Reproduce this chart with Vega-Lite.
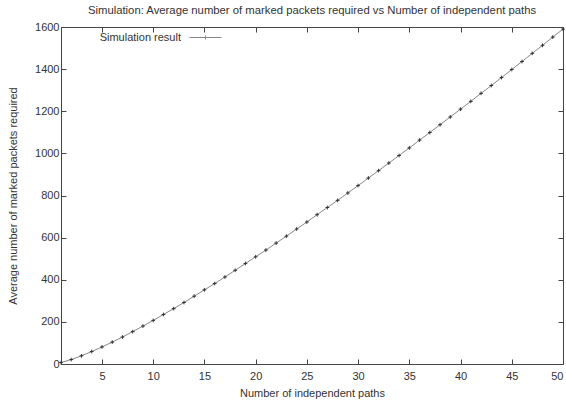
{
  "$schema": "https://vega.github.io/schema/vega-lite/v6.json",
  "width": 502,
  "height": 337,
  "autosize": {"type": "none"},
  "padding": {"left": 61, "top": 27, "right": 3, "bottom": 38},
  "background": "white",
  "config": {
    "font": "Liberation Sans",
    "view": {"stroke": "#444", "strokeWidth": 1},
    "axis": {
      "grid": false,
      "domain": false,
      "tickColor": "#444",
      "tickSize": -5,
      "labelFontSize": 11,
      "labelColor": "#333",
      "labelFont": "Liberation Sans",
      "titleFont": "Liberation Sans",
      "titleFontSize": 11,
      "titleFontWeight": "normal",
      "titleColor": "#333"
    }
  },
  "title": {
    "text": "Simulation: Average number of marked packets required vs Number of independent paths",
    "fontSize": 11.3,
    "fontWeight": "normal",
    "font": "Liberation Sans",
    "color": "#333",
    "anchor": "middle",
    "offset": 5
  },
  "data": {
    "values": [
      {"n": 1, "v": 7}, {"n": 2, "v": 21}, {"n": 3, "v": 39}, {"n": 4, "v": 59}, {"n": 5, "v": 81},
      {"n": 6, "v": 104}, {"n": 7, "v": 128}, {"n": 8, "v": 154}, {"n": 9, "v": 180}, {"n": 10, "v": 207},
      {"n": 11, "v": 235}, {"n": 12, "v": 263}, {"n": 13, "v": 292}, {"n": 14, "v": 322}, {"n": 15, "v": 352},
      {"n": 16, "v": 382}, {"n": 17, "v": 413}, {"n": 18, "v": 445}, {"n": 19, "v": 477}, {"n": 20, "v": 509},
      {"n": 21, "v": 541}, {"n": 22, "v": 574}, {"n": 23, "v": 607}, {"n": 24, "v": 641}, {"n": 25, "v": 674},
      {"n": 26, "v": 709}, {"n": 27, "v": 743}, {"n": 28, "v": 777}, {"n": 29, "v": 812}, {"n": 30, "v": 847},
      {"n": 31, "v": 883}, {"n": 32, "v": 918}, {"n": 33, "v": 954}, {"n": 34, "v": 990}, {"n": 35, "v": 1026},
      {"n": 36, "v": 1063}, {"n": 37, "v": 1099}, {"n": 38, "v": 1136}, {"n": 39, "v": 1173}, {"n": 40, "v": 1210},
      {"n": 41, "v": 1247}, {"n": 42, "v": 1285}, {"n": 43, "v": 1322}, {"n": 44, "v": 1360}, {"n": 45, "v": 1398},
      {"n": 46, "v": 1436}, {"n": 47, "v": 1475}, {"n": 48, "v": 1513}, {"n": 49, "v": 1552}, {"n": 50, "v": 1590}
    ]
  },
  "layer": [
    {
      "mark": {"type": "line", "strokeWidth": 1},
      "encoding": {
        "x": {
          "field": "n", "type": "quantitative",
          "scale": {"domain": [1, 50], "nice": false, "zero": false},
          "axis": {"orient": "bottom", "values": [5, 10, 15, 20, 25, 30, 35, 40, 45, 50], "format": "d", "labelPadding": 11, "title": "Number of independent paths", "titlePadding": 6}
        },
        "y": {
          "field": "v", "type": "quantitative",
          "scale": {"domain": [0, 1600], "nice": false},
          "axis": {"orient": "left", "values": [0, 200, 400, 600, 800, 1000, 1200, 1400, 1600], "format": "d", "labelPadding": 7, "title": "Average number of marked packets required", "titlePadding": 16}
        },
        "color": {
          "datum": "Simulation result",
          "scale": {"range": ["#888"]},
          "legend": {
            "title": null,
            "orient": "none",
            "legendX": 128,
            "legendY": -6,
            "padding": 0,
            "symbolType": "M-1,0L1,0M0,-0.13L0,0.13",
            "symbolSize": 1024,
            "symbolStrokeColor": "#555",
            "symbolFillColor": "transparent",
            "symbolStrokeWidth": 1,
            "labelAlign": "right",
            "labelOffset": -41,
            "labelFontSize": 11,
            "labelColor": "#333",
            "labelFont": "Liberation Sans"
          }
        }
      }
    },
    {
      "mark": {"type": "point", "shape": "M-1,0L1,0M0,-1L0,1", "size": 14, "filled": false, "strokeWidth": 1, "color": "#333", "opacity": 1},
      "encoding": {
        "x": {
          "field": "n", "type": "quantitative",
          "axis": {"orient": "top", "values": [5, 10, 15, 20, 25, 30, 35, 40, 45, 50], "labels": false, "title": null}
        },
        "y": {
          "field": "v", "type": "quantitative",
          "axis": {"orient": "right", "values": [0, 200, 400, 600, 800, 1000, 1200, 1400, 1600], "labels": false, "title": null}
        }
      }
    }
  ],
  "resolve": {"axis": {"x": "independent", "y": "independent"}}
}
